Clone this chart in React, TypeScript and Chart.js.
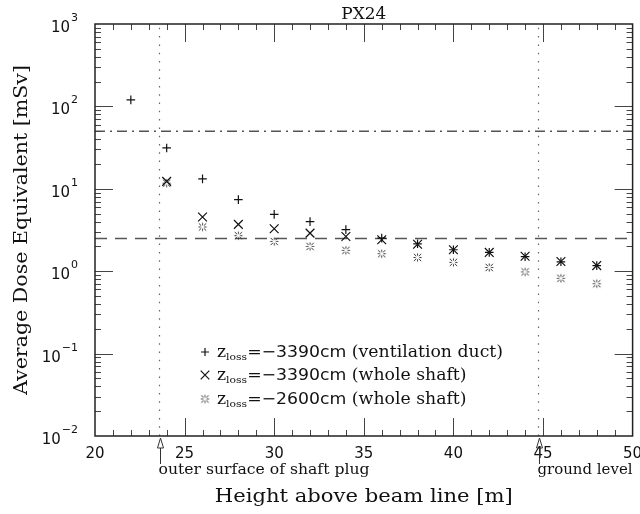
import React, { useEffect, useRef } from "react";
import { Chart, registerables } from "chart.js";

Chart.register(...registerables);

const heights = [22, 24, 26, 28, 30, 32, 34, 36, 38, 40, 42, 44, 46, 48];
const ventDuct3390 = [120, 31.3, 13.2, 7.4, 4.9, 4.0, 3.2, 2.52, 2.15, 1.82, 1.69, 1.5, 1.3, 1.17];
const shaft3390 = [null, 12.3, 4.55, 3.7, 3.28, 2.9, 2.64, 2.41, 2.12, 1.82, 1.69, 1.52, 1.31, 1.17];
const shaft2600 = [null, 11.7, 3.44, 2.7, 2.3, 2.0, 1.79, 1.63, 1.47, 1.28, 1.11, 0.98, 0.82, 0.705];

const doseLimitDashDot = 50;
const doseLimitDashed = 2.5;
const plugSurface = 23.6;
const groundLevel = 44.75;

const xTickLabels = [20, 25, 30, 35, 40, 45, 50];
const yExponents = [-2, -1, 0, 1, 2, 3];

const legendItems = [
  { value: "=\u22123390cm", note: " (ventilation duct)" },
  { value: "=\u22123390cm", note: " (whole shaft)" },
  { value: "=\u22122600cm", note: " (whole shaft)" },
];

const SERIF = '"DejaVu Serif", serif';
const SANS = '"DejaVu Sans", sans-serif';

function makeSnowflake(): HTMLCanvasElement {
  const c = document.createElement("canvas");
  c.width = 11;
  c.height = 11;
  const g = c.getContext("2d")!;
  g.strokeStyle = "#333";
  g.lineWidth = 1;
  const cx = 5.5, cy = 5.5;
  for (let i = 0; i < 8; i++) {
    const a = (i * Math.PI) / 4;
    const r0 = 1.8;
    const r1 = i % 2 === 0 ? 4.0 : 5.2;
    g.beginPath();
    g.moveTo(cx + Math.cos(a) * r0, cy + Math.sin(a) * r0);
    g.lineTo(cx + Math.cos(a) * r1, cy + Math.sin(a) * r1);
    g.stroke();
  }
  return c;
}

// draw text stretched horizontally to a target width
function fitText(
  ctx: CanvasRenderingContext2D,
  text: string,
  x: number,
  y: number,
  width: number,
  align: "left" | "center"
) {
  const w = ctx.measureText(text).width;
  const s = width / w;
  ctx.save();
  const startX = align === "center" ? x - width / 2 : x;
  ctx.translate(startX, y);
  ctx.scale(s, 1);
  ctx.textAlign = "left";
  ctx.fillText(text, 0, 0);
  ctx.restore();
}

const framePlugin = {
  id: "framePlugin",
  afterDraw(chart: any) {
    const ctx: CanvasRenderingContext2D = chart.ctx;
    const xs = chart.scales.x;
    const ys = chart.scales.y;
    const { left, right, top, bottom } = chart.chartArea;
    ctx.save();
    // ticks
    ctx.strokeStyle = "#444";
    ctx.lineWidth = 1;
    const major = 18;
    const minor = 6;
    ctx.beginPath();
    for (let v = 21; v < 50; v++) {
      const px = Math.round(xs.getPixelForValue(v)) + 0.5;
      const len = v % 5 === 0 ? major : minor;
      ctx.moveTo(px, bottom);
      ctx.lineTo(px, bottom - len);
      ctx.moveTo(px, top);
      ctx.lineTo(px, top + len);
    }
    for (let d = -2; d <= 2; d++) {
      for (let k = 1; k <= 9; k++) {
        if (k === 1 && d === -2) continue;
        const val = k * Math.pow(10, d);
        const py = Math.round(ys.getPixelForValue(val)) + 0.5;
        const len = k === 1 ? major : minor;
        ctx.moveTo(left, py);
        ctx.lineTo(left + len, py);
        ctx.moveTo(right, py);
        ctx.lineTo(right - len, py);
      }
    }
    ctx.stroke();
    // frame
    ctx.strokeStyle = "#222";
    ctx.lineWidth = 1.5;
    ctx.strokeRect(left, top, right - left, bottom - top);

    // x tick labels
    ctx.fillStyle = "#111";
    ctx.font = `15px ${SANS}`;
    ctx.textAlign = "center";
    ctx.textBaseline = "alphabetic";
    xTickLabels.forEach((v) => {
      ctx.fillText(String(v), xs.getPixelForValue(v), bottom + 22);
    });

    // y tick labels
    yExponents.forEach((e) => {
      const py = ys.getPixelForValue(Math.pow(10, e));
      const expStr = e < 0 ? "\u2212" + Math.abs(e) : String(e);
      ctx.font = `11px ${SANS}`;
      const ew = ctx.measureText(expStr).width;
      ctx.textAlign = "left";
      const expRight = left - 17;
      ctx.fillText(expStr, expRight - ew, py - 3);
      ctx.font = `15px ${SANS}`;
      ctx.textAlign = "right";
      ctx.fillText("10", expRight - ew - 1, py + 8);
    });

    // title
    ctx.font = `17px ${SERIF}`;
    fitText(ctx, "PX24", (left + right) / 2, top - 5, 45, "center");

    // x title
    ctx.font = `19px ${SERIF}`;
    fitText(ctx, "Height above beam line [m]", (left + right) / 2, 502, 298, "center");

    // y title
    ctx.save();
    ctx.translate(27, (top + bottom) / 2);
    ctx.rotate(-Math.PI / 2);
    ctx.font = `19px ${SERIF}`;
    fitText(ctx, "Average Dose Equivalent [mSv]", 0, 0, 330, "center");
    ctx.restore();

    // arrows
    ctx.strokeStyle = "#333";
    ctx.lineWidth = 1;
    [plugSurface, groundLevel].forEach((v) => {
      const px = Math.round(xs.getPixelForValue(v)) + 0.5;
      ctx.beginPath();
      ctx.moveTo(px, bottom + 2);
      ctx.lineTo(px - 3, bottom + 12);
      ctx.lineTo(px + 3, bottom + 12);
      ctx.closePath();
      ctx.moveTo(px, bottom + 12);
      ctx.lineTo(px, bottom + 28);
      ctx.stroke();
    });
    ctx.font = `14px ${SERIF}`;
    fitText(ctx, "outer surface of shaft plug", xs.getPixelForValue(plugSurface) - 1, bottom + 38, 211, "left");
    fitText(ctx, "ground level", xs.getPixelForValue(groundLevel) - 1, bottom + 38, 95, "left");

    // legend
    const markerX = 205;
    const textX = 217;
    const rowY = [352, 375, 399];
    const legendWidth = 286;
    const ds = chart.data.datasets;
    for (let i = 0; i < 3; i++) {
      const y = rowY[i];
      const d = ds[i];
      ctx.save();
      if (d.pointStyle instanceof HTMLCanvasElement) {
        ctx.drawImage(d.pointStyle, markerX - 5.5, y - 5.5);
      } else {
        ctx.strokeStyle = d.pointBorderColor;
        ctx.lineWidth = d.pointBorderWidth;
        ctx.beginPath();
        if (d.pointStyle === "cross") {
          ctx.moveTo(markerX - 4, y);
          ctx.lineTo(markerX + 4, y);
          ctx.moveTo(markerX, y - 4);
          ctx.lineTo(markerX, y + 4);
        } else {
          ctx.moveTo(markerX - 4.3, y - 4.3);
          ctx.lineTo(markerX + 4.3, y + 4.3);
          ctx.moveTo(markerX + 4.3, y - 4.3);
          ctx.lineTo(markerX - 4.3, y + 4.3);
        }
        ctx.stroke();
      }
      ctx.restore();
      const segs: [string, string, number][] = [
        ["z", `16px ${SERIF}`, 0],
        ["loss", `10px ${SERIF}`, 3],
        [legendItems[i].value, `16px ${SANS}`, 0],
        [legendItems[i].note, `16px ${SERIF}`, 0],
      ];
      const seg0: [string, string][] = [
        ["z", `16px ${SERIF}`],
        ["loss", `10px ${SERIF}`],
        [legendItems[0].value, `16px ${SANS}`],
        [legendItems[0].note, `16px ${SERIF}`],
      ];
      let nat = 0;
      seg0.forEach(([t, f]) => {
        ctx.font = f;
        nat += ctx.measureText(t).width;
      });
      const s = legendWidth / nat;
      ctx.save();
      ctx.translate(textX, y + 5);
      ctx.scale(s, 1);
      ctx.fillStyle = "#111";
      ctx.textAlign = "left";
      let x = 0;
      segs.forEach(([t, f, dy]) => {
        ctx.font = f;
        ctx.fillText(t, x, dy);
        x += ctx.measureText(t).width;
      });
      ctx.restore();
    }
    ctx.restore();
  },
};

export default function App() {
  const ref = useRef<HTMLCanvasElement | null>(null);
  useEffect(() => {
    document.body.style.margin = "0";
    const snow = makeSnowflake();
    const pts = (vals: (number | null)[]) =>
      heights
        .map((h, i) => ({ x: h, y: vals[i] }))
        .filter((p) => p.y !== null) as { x: number; y: number }[];
    const chart = new Chart(ref.current!, {
      type: "scatter",
      data: {
        datasets: [
          {
            data: pts(ventDuct3390),
            pointStyle: "cross",
            pointRadius: 4.3,
            pointBorderColor: "#111",
            pointBorderWidth: 1.2,
            showLine: false,
          } as any,
          {
            data: pts(shaft3390),
            pointStyle: "crossRot",
            pointRadius: 6.2,
            pointBorderColor: "#111",
            pointBorderWidth: 1.2,
            showLine: false,
          } as any,
          {
            data: pts(shaft2600),
            pointStyle: snow,
            pointRadius: 5,
            showLine: false,
          } as any,
          {
            data: [
              { x: 20, y: doseLimitDashDot },
              { x: 50, y: doseLimitDashDot },
            ],
            showLine: true,
            pointRadius: 0,
            borderColor: "#555",
            borderWidth: 1.5,
            borderDash: [10, 5, 2, 5],
          } as any,
          {
            data: [
              { x: 20, y: doseLimitDashed },
              { x: 50, y: doseLimitDashed },
            ],
            showLine: true,
            pointRadius: 0,
            borderColor: "#555",
            borderWidth: 1.5,
            borderDash: [12, 8],
          } as any,
          {
            data: [
              { x: plugSurface, y: 0.01 },
              { x: plugSurface, y: 1000 },
            ],
            showLine: true,
            pointRadius: 0,
            borderColor: "#666",
            borderWidth: 1.2,
            borderDash: [1.5, 6.8],
          } as any,
          {
            data: [
              { x: groundLevel, y: 0.01 },
              { x: groundLevel, y: 1000 },
            ],
            showLine: true,
            pointRadius: 0,
            borderColor: "#666",
            borderWidth: 1.2,
            borderDash: [1.5, 6.8],
          } as any,
        ],
      },
      options: {
        responsive: false,
        animation: false,
        devicePixelRatio: 1,
        layout: { padding: { left: 95, top: 24, right: 7, bottom: 78 } },
        plugins: { legend: { display: false }, tooltip: { enabled: false }, title: { display: false } },
        scales: {
          x: { type: "linear", min: 20, max: 50, display: false },
          y: { type: "logarithmic", min: 0.01, max: 1000, display: false },
        },
      },
      plugins: [framePlugin],
    });
    return () => chart.destroy();
  }, []);
  return <canvas ref={ref} width={640} height={514} style={{ display: "block" }} />;
}
